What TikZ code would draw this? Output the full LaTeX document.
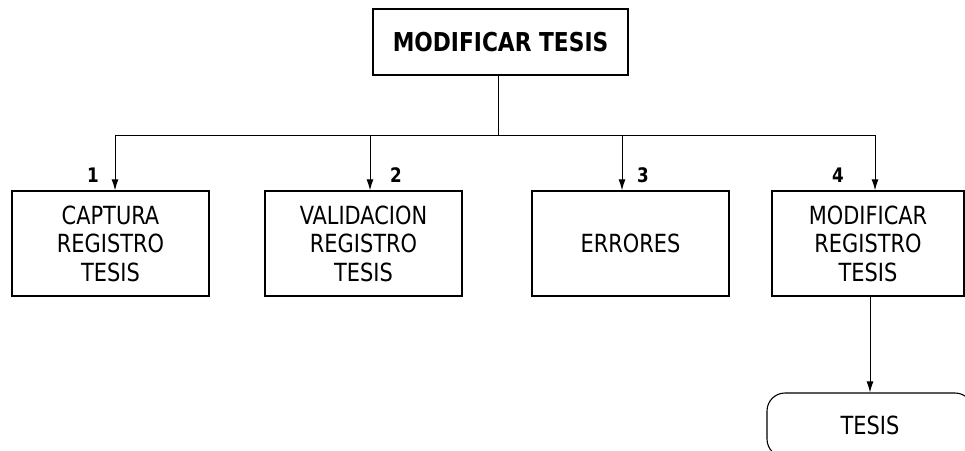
\documentclass[tikz,border=0pt]{standalone}
\usepackage{fontspec}
\setmainfont[FakeStretch=0.93]{DejaVu Sans Condensed}
\usetikzlibrary{arrows.meta}
\tikzset{
  box/.style={draw, line width=1.3pt, minimum width=197pt, minimum height=105pt, align=center, font=\fontsize{25}{28.5}\selectfont, inner sep=0pt},
  titlebox/.style={draw, line width=1.3pt, minimum width=255pt, minimum height=66pt, font=\fontsize{26}{28}\selectfont\bfseries, inner sep=0pt},
  stored/.style={draw, line width=1.1pt, rounded corners=18pt, minimum width=206pt, minimum height=64pt, font=\fontsize{25}{28}\selectfont, inner sep=0pt},
  num/.style={font=\fontsize{20}{22}\selectfont\bfseries, inner sep=0pt},
  conn/.style={line width=1pt},
  arr/.style={line width=1pt, -{Latex[length=11pt,width=7pt]}}
}
\begin{document}
\begin{tikzpicture}[x=1pt,y=-1pt]
\useasboundingbox (0,0) rectangle (965,450);
\clip (0,0) rectangle (965,450);
\node[titlebox] (top) at (500.5,42) {MODIFICAR TESIS};
\node[box] (b1) at (110.5,243.5) {CAPTURA\\REGISTRO\\TESIS};
\node[box] (b2) at (363.5,243.5) {VALIDACION\\REGISTRO\\TESIS};
\node[box] (b3) at (630.5,243.5) {ERRORES};
\node[box, minimum width=192pt] (b4) at (868,243.5) {MODIFICAR\\REGISTRO\\TESIS};
\node[stored] (ts) at (870,425) {TESIS};
\coordinate (t0) at (498,75);
\coordinate (h0) at (498,135);
\coordinate (a1) at (115,135);
\coordinate (a2) at (370,135);
\coordinate (a3) at (622,135);
\coordinate (a4) at (875,135);
\draw[conn] (t0) -- (h0);
\draw[conn] (a1) -- (a4);
\draw[arr] (a1) -- (a1 |- b1.north);
\draw[arr] (a2) -- (a2 |- b2.north);
\draw[arr] (a3) -- (a3 |- b3.north);
\draw[arr] (a4) -- (a4 |- b4.north);
\draw[arr] (b4.south -| ts.north) -- (ts.north);
\node[num] (n1) at (93,175) {1};
\node[num] (n2) at (396,175) {2};
\node[num] (n3) at (643,175) {3};
\node[num] (n4) at (838,175) {4};
\end{tikzpicture}
\end{document}
